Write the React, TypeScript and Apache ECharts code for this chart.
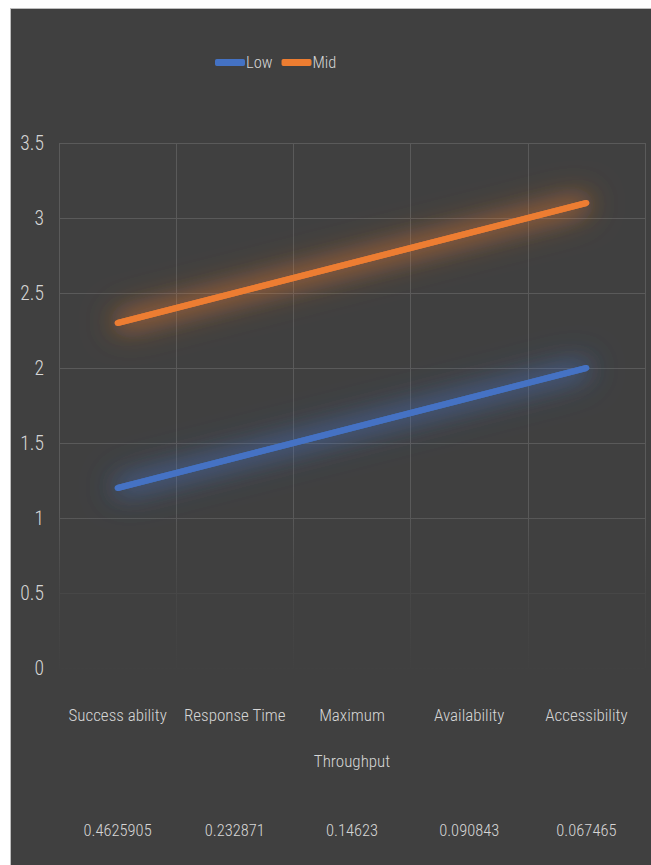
import React, { useEffect, useRef } from "react";
import * as echarts from "echarts";

const categories = ["Success ability", "Response Time", "Maximum\nThroughput", "Availability", "Accessibility"];
const weights = ["0.4625905", "0.232871", "0.14623", "0.090843", "0.067465"];
const lowValues = [1.2, 1.4, 1.6, 1.8, 2.0];
const midValues = [2.3, 2.5, 2.7, 2.9, 3.1];
const yTicks = { min: 0, max: 3.5, interval: 0.5 };

const FONT = "'Roboto Condensed', 'DejaVu Sans Condensed', sans-serif";
const TEXT = "#d6d6d6";
const BG = "#404040";
const BLUE = "#4472C4";
const ORANGE = "#ED7D31";

function glow(name: string, data: number[], color: string, blur: number) {
  return {
    name,
    type: "line",
    data,
    showSymbol: false,
    symbol: "none",
    silent: true,
    z: 3,
    color,
    lineStyle: {
      width: 6,
      color,
      cap: "round",
      shadowBlur: blur,
      shadowColor: color,
    },
  };
}

function main(name: string, data: number[], color: string) {
  return {
    name,
    type: "line",
    data,
    showSymbol: false,
    symbol: "none",
    z: 5,
    color,
    lineStyle: { width: 6, color, cap: "butt", shadowBlur: 22, shadowColor: color },
  };
}

export default function App() {
  const ref = useRef<HTMLDivElement>(null);
  useEffect(() => {
    if (!ref.current) return;
    const chart = echarts.init(ref.current, undefined, { renderer: "svg" });
    chart.setOption({
      animation: false,
      backgroundColor: BG,
      textStyle: { fontFamily: FONT, fontWeight: 300 },
      legend: {
        left: 204,
        top: 45,
        padding: 0,
        itemWidth: 30,
        itemHeight: 7,
        itemGap: 9,
        icon: "roundRect",
        textStyle: { color: TEXT, fontSize: 16.5, fontWeight: 300, fontFamily: FONT, padding: [0, 0, 0, -4] },
        data: [
          { name: "Low", itemStyle: { color: BLUE } },
          { name: "Mid", itemStyle: { color: ORANGE } },
        ],
      },
      grid: { left: 48, right: 6, top: 134, bottom: 197, containLabel: false },
      xAxis: [
        {
          type: "category",
          data: categories,
          boundaryGap: true,
          position: "bottom",
          axisLine: { show: false },
          axisTick: { show: false },
          splitLine: { show: true, interval: 0, lineStyle: { color: "#5a5a5a", width: 1 } },
          axisLabel: {
            interval: 0,
            color: TEXT,
            fontSize: 17,
            fontWeight: 300,
            fontFamily: FONT,
            margin: 24,
            lineHeight: 46,
          },
        },
        {
          type: "category",
          data: weights,
          boundaryGap: true,
          position: "bottom",
          axisLine: { show: false },
          axisTick: { show: false },
          splitLine: { show: false },
          axisLabel: {
            interval: 0,
            color: TEXT,
            fontSize: 16.5,
            fontWeight: 300,
            fontFamily: FONT,
            margin: 152,
            lineHeight: 20,
          },
        },
      ],
      yAxis: {
        type: "value",
        min: yTicks.min,
        max: yTicks.max,
        interval: yTicks.interval,
        axisLine: { show: false },
        axisTick: { show: false },
        splitLine: { lineStyle: { color: "#5a5a5a", width: 1 } },
        axisLabel: { color: TEXT, fontSize: 19.5, fontWeight: 300, fontFamily: FONT, margin: 15 },
      },
      graphic: [
        {
          type: "rect",
          z: 1,
          silent: true,
          shape: { x: 40, y: 500, width: 600, height: 170 },
          style: {
            fill: new echarts.graphic.LinearGradient(0, 0, 0, 1, [
              { offset: 0, color: "rgba(64,64,64,0)" },
              { offset: 0.45, color: "rgba(64,64,64,0.7)" },
              { offset: 1, color: "rgba(64,64,64,1)" },
            ]),
          },
        },
      ],
      series: [
        glow("Low", lowValues, BLUE, 36),
        glow("Mid", midValues, ORANGE, 36),
        main("Low", lowValues, BLUE),
        main("Mid", midValues, ORANGE),
      ],
    });
    return () => chart.dispose();
  }, []);

  return (
    <div style={{ position: "absolute", left: 0, top: 0, width: 651, height: 865, background: "#ffffff", overflow: "hidden" }}>
      <div
        style={{
          position: "absolute",
          left: 10,
          top: 8,
          width: 641,
          height: 857,
          borderTop: "1px solid #bdbdbd",
          borderLeft: "1px solid #bdbdbd",
          background: BG,
        }}
      >
        <div ref={ref} style={{ width: 640, height: 856 }} />
      </div>
    </div>
  );
}
